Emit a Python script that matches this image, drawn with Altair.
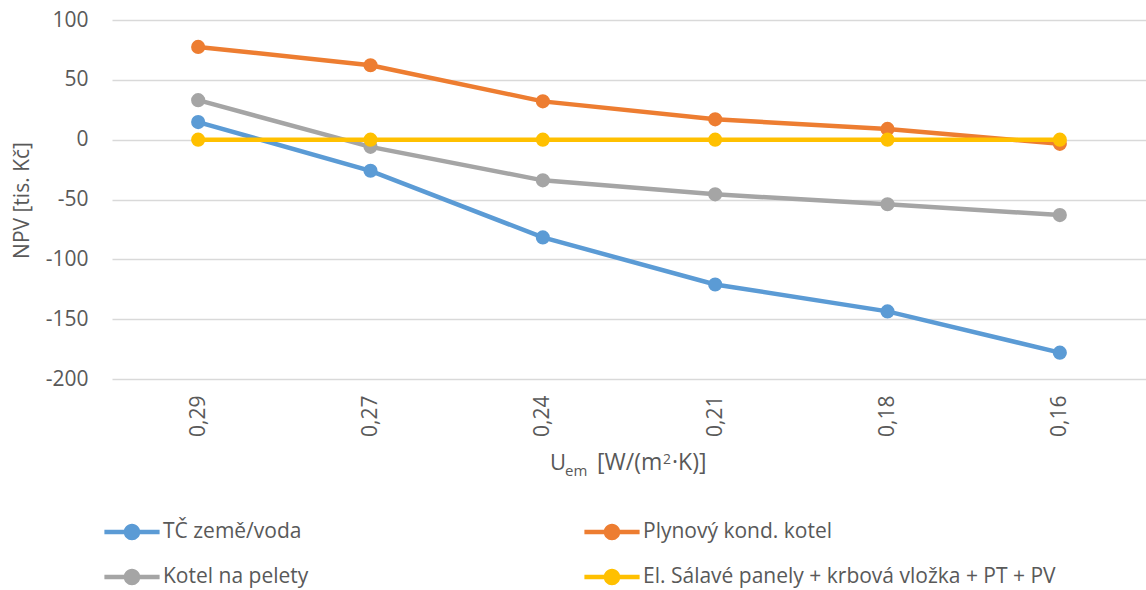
import altair as alt
import pandas as pd

# Category labels (U_em values) along the x axis, in display order
u_labels = ["0,29", "0,27", "0,24", "0,21", "0,18", "0,16"]

series_names = [
    "TČ země/voda",
    "Plynový kond. kotel",
    "Kotel na pelety",
    "El. Sálavé panely + krbová vložka + PT + PV",
]

# NPV [tis. Kč] per variant
tc_zeme_voda = [14.7, -26.0, -81.7, -121.0, -143.5, -178.0]
plynovy_kotel = [77.5, 62.2, 32.0, 17.0, 9.0, -3.5]
kotel_pelety = [33.0, -6.0, -34.0, -45.7, -54.0, -63.0]
el_salave = [0.0, 0.0, 0.0, 0.0, 0.0, 0.0]

series_values = [tc_zeme_voda, plynovy_kotel, kotel_pelety, el_salave]
colors = ["#5B9BD5", "#ED7D31", "#A5A5A5", "#FFC000"]
y_ticks = [-200, -150, -100, -50, 0, 50, 100]

# legend is filled column by column: two rows, two columns
legend_order = [series_names[0], series_names[2], series_names[1], series_names[3]]

rows = []
for name, vals in zip(series_names, series_values):
    for u, v in zip(u_labels, vals):
        rows.append({"U": u, "NPV": v, "serie": name})
df = pd.DataFrame(rows)

FONT = "Open Sans"
FS = 21
TEXT = "#595959"

# legend glyph: short line with a dot in the middle
LINE_DOT = (
    "M-1.2,-0.1 L1.2,-0.1 L1.2,0.1 L-1.2,0.1 Z "
    "M0.36,0 A0.36,0.36 0 1,1 -0.36,0 A0.36,0.36 0 1,1 0.36,0 Z"
)

x_enc = alt.X(
    "U:N",
    sort=u_labels,
    scale=alt.Scale(type="point", padding=0.5),
    axis=alt.Axis(
        title=None,
        labelAngle=-90,
        labelFontSize=FS,
        labelFont=FONT,
        labelColor=TEXT,
        labelPadding=16,
        ticks=False,
        domain=False,
        grid=False,
    ),
)
y_enc = alt.Y(
    "NPV:Q",
    scale=alt.Scale(domain=[-200, 100], nice=False, zero=False),
    axis=alt.Axis(
        values=y_ticks,
        labelExpr="'' + datum.value",
        title="NPV [tis. Kč]",
        titleFont=FONT,
        titleFontSize=FS,
        titleFontWeight="normal",
        titleColor=TEXT,
        titleX=-90,
        titleY=180,
        titleAngle=270,
        titleAlign="center",
        titleBaseline="middle",
        labelFontSize=FS,
        labelFont=FONT,
        labelColor=TEXT,
        labelPadding=24,
        ticks=False,
        domain=False,
        grid=True,
        gridColor="#D9D9D9",
        gridWidth=1.3,
    ),
)
color_enc = alt.Color(
    "serie:N",
    scale=alt.Scale(domain=series_names, range=colors),
    legend=alt.Legend(
        title=None,
        values=legend_order,
        orient="none",
        legendX=-3,
        legendY=489,
        columns=2,
        columnPadding=275,
        rowPadding=12,
        padding=0,
        symbolType=LINE_DOT,
        symbolSize=2116,
        symbolStrokeWidth=0,
        symbolOpacity=1,
        labelFont=FONT,
        labelFontSize=FS,
        labelColor=TEXT,
        labelOffset=8,
        labelLimit=600,
    ),
)

base = alt.Chart(df).encode(x=x_enc, y=y_enc, color=color_enc)

layers = []
for name in series_names:
    sub = base.transform_filter(alt.datum.serie == name)
    layers.append(sub.mark_line(strokeWidth=4.5))
    layers.append(sub.mark_circle(size=200, opacity=1))


def title_piece(text, x, y, size):
    return alt.Chart(pd.DataFrame({"t": [text]})).mark_text(
        align="left", baseline="alphabetic", font=FONT, fontSize=size, color=TEXT
    ).encode(text="t:N", x=alt.value(x), y=alt.value(y))


# x-axis title: U_em [W/(m^2·K)] with real sub- and superscript
x_title = [
    title_piece("U", 438, 450, 22),
    title_piece("em", 453, 456, 15),
    title_piece("[W/(m", 485, 450, 23),
    title_piece("2", 551, 444, 14),
    title_piece("·K)]", 560, 450, 23),
]

chart = (
    alt.layer(*layers, *x_title)
    .properties(
        width=1034,
        height=359,
        padding={"left": 112, "top": 20, "right": 0, "bottom": 211},
        autosize=alt.AutoSizeParams(type="none"),
        background="white",
    )
    .configure_view(stroke=None)
)

chart.save("out.html", embed_options={"renderer": "svg", "actions": False})
